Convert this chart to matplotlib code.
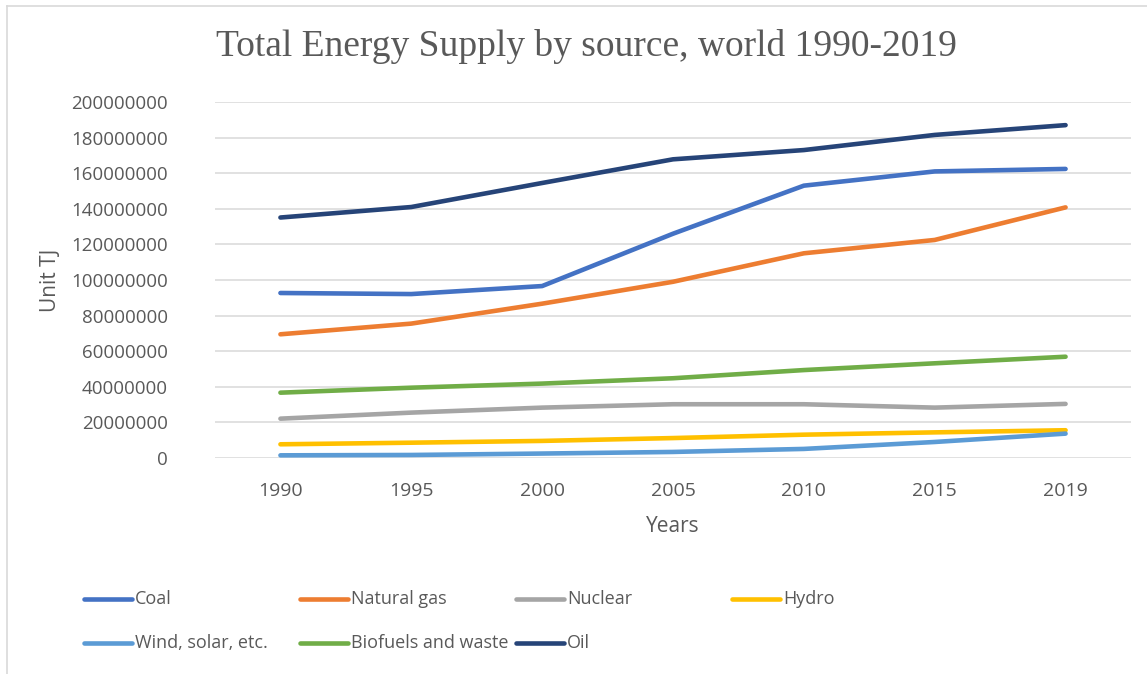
import matplotlib
matplotlib.use("Agg")
import matplotlib.pyplot as plt
from matplotlib.lines import Line2D

# data (TJ)
years = ["1990", "1995", "2000", "2005", "2010", "2015", "2019"]
coal = [92.7e6, 92.1e6, 96.6e6, 126.0e6, 153.0e6, 161.0e6, 162.4e6]
natural_gas = [69.5e6, 75.5e6, 86.7e6, 99.0e6, 115.0e6, 122.5e6, 140.8e6]
nuclear = [22.1e6, 25.5e6, 28.3e6, 30.2e6, 30.2e6, 28.3e6, 30.4e6]
hydro = [7.7e6, 8.6e6, 9.6e6, 11.2e6, 13.1e6, 14.4e6, 15.6e6]
wind_solar = [1.5e6, 1.7e6, 2.5e6, 3.4e6, 5.1e6, 9.0e6, 13.7e6]
biofuels = [36.7e6, 39.5e6, 41.8e6, 44.8e6, 49.4e6, 53.2e6, 56.9e6]
oil = [135.1e6, 141.0e6, 154.5e6, 167.8e6, 173.0e6, 181.5e6, 187.0e6]
yticks = [0, 20000000, 40000000, 60000000, 80000000, 100000000,
          120000000, 140000000, 160000000, 180000000, 200000000]

series = [
    ("Coal", coal, "#4472C4"),
    ("Natural gas", natural_gas, "#ED7D31"),
    ("Nuclear", nuclear, "#A5A5A5"),
    ("Hydro", hydro, "#FFC000"),
    ("Wind, solar, etc.", wind_solar, "#5B9BD5"),
    ("Biofuels and waste", biofuels, "#70AD47"),
    ("Oil", oil, "#264478"),
]

txt = "#595959"
sans = ["Open Sans", "DejaVu Sans"]
W, H = 1147, 674

fig = plt.figure(figsize=(11.47, 6.74), dpi=100)
ax = fig.add_axes([215 / W, 1 - 458 / H, (1131 - 215) / W, (458 - 102) / H])

x = list(range(len(years)))
for name, vals, col in series:
    ax.plot(x, vals, color=col, lw=3.3, solid_capstyle="round",
            solid_joinstyle="round", zorder=3)

ax.set_xlim(-0.5, len(years) - 0.5)
ax.set_ylim(0, 200000000)
ax.set_xticks(x)
ax.set_xticklabels(years)
ax.set_yticks(yticks)
ax.set_yticklabels([str(v) for v in yticks])
ax.grid(axis="y", color="#d9d9d9", lw=1.1, zorder=0)
for s in ax.spines.values():
    s.set_visible(False)
ax.tick_params(axis="y", length=0, pad=34, labelsize=13.5, labelcolor=txt)
ax.tick_params(axis="x", length=0, pad=17, labelsize=14, labelcolor=txt)
for lab in ax.get_xticklabels() + ax.get_yticklabels():
    lab.set_family(sans)

fig.text(586 / W, 1 - 47 / H, "Total Energy Supply by source, world 1990-2019",
         ha="center", va="center", fontsize=27, color=txt,
         family=["Liberation Serif", "DejaVu Serif"])
fig.text(50 / W, 1 - 280 / H, "Unit TJ", rotation=90, ha="center", va="center",
         fontsize=15, color=txt, family=sans)
fig.text(673 / W, 1 - 527 / H, "Years", ha="center", va="center",
         fontsize=15, color=txt, family=sans)

# legend, equal width columns like Excel
for i, (name, vals, col) in enumerate(series):
    r, c = divmod(i, 4)
    x0 = 84 + c * 216
    yy = 1 - (599 + r * 44) / H
    fig.add_artist(Line2D([x0 / W, (x0 + 48) / W], [yy, yy], color=col, lw=3.3,
                          solid_capstyle="round", transform=fig.transFigure))
    fig.text((x0 + 51) / W, yy, name, ha="left", va="center", fontsize=13,
             color=txt, family=sans)

# chart border (top and left visible)
fig.add_artist(Line2D([7 / W, 1], [1 - 6 / H, 1 - 6 / H], color="#d9d9d9", lw=1.2,
                      transform=fig.transFigure))
fig.add_artist(Line2D([7 / W, 7 / W], [0, 1 - 6 / H], color="#d9d9d9", lw=1.2,
                      transform=fig.transFigure))

fig.savefig("out.png", dpi=100)
